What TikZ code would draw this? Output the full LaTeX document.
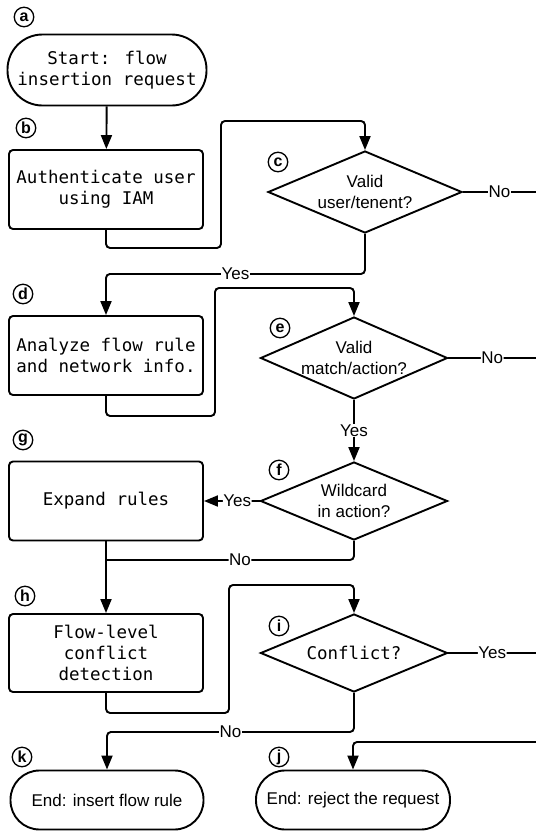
\documentclass[tikz,border=0pt]{standalone}
\usepackage{fontspec}
\setmainfont{Liberation Sans}
\newfontfamily\codefont{DejaVu Sans Mono}
\usepackage{tikz}
\usetikzlibrary{shapes,arrows.meta,positioning,calc}

\begin{document}
\begin{tikzpicture}[x=1pt, y=-1pt,
    line/.style={line width=1.9pt, rounded corners=4pt},
    arr/.style={line, -{Triangle[length=14pt,width=11pt]}},
    proc/.style={draw, line width=1.9pt, rectangle, rounded corners=4pt, minimum width=194pt, minimum height=79pt, align=center, font=\codefont\fontsize{17.5}{21}\selectfont},
    term/.style={draw, line width=1.9pt, rectangle, rounded corners=29pt, minimum height=59pt, align=center, font=\fontsize{17}{21}\selectfont},
    dec/.style={draw, line width=1.9pt, diamond, aspect=2.3, inner sep=-3pt, minimum width=187pt, align=center, font=\fontsize{17}{21}\selectfont},
    lbl/.style={fill=white, inner sep=0.5pt, font=\fontsize{17}{20}\selectfont},
    tag/.style={circle, draw, line width=1.3pt, minimum size=19.5pt, inner sep=0pt, font=\bfseries\fontsize{16}{16}\selectfont}]
    \useasboundingbox (0,0) rectangle (536,831);

    % left column
    \node[term, minimum width=199pt, minimum height=71pt, rounded corners=35pt, font=\codefont\fontsize{17.5}{21}\selectfont] (start) at (107,70) {Start: flow\\insertion request};
    \node[proc] (auth) at (106,189.5) {Authenticate user\\using IAM};
    \node[proc] (analyze) at (106,355.5) {Analyze flow rule\\and network info.};
    \node[proc] (expand) at (106,501) {Expand rules};
    \node[proc, minimum height=78pt] (detect) at (106,653) {Flow-level\\conflict\\detection};
    \node[term, minimum width=193pt] (insert) at (107,800) {End: insert flow rule};

    % right column
    \node[dec, minimum width=194pt, minimum height=82pt] (user) at (365,192) {Valid\\user/tenent?};
    \node[dec, minimum height=82pt] (match) at (354,358) {Valid\\match/action?};
    \node[dec, minimum height=78pt] (wild) at (354,501) {Wildcard\\in action?};
    \node[dec, minimum height=78pt, font=\codefont\fontsize{17.5}{21}\selectfont] (conflict) at (354,653) {Conflict?};
    \node[term, minimum width=194pt] (reject) at (353,800) {End: reject the request};

    % step tags
    \foreach \t/\x/\y in {a/24/17, b/26/128, c/278/162, d/23/294, e/280/328,
        g/23/440, f/279/470, h/25/596, i/279/626, k/22/757, j/279/757} {
        \node[tag] (tag\t) at (\x,\y) {\t};
    }

    % loose ends at the right border
    \coordinate (outA) at (536,192);
    \coordinate (outB) at (536,358);
    \coordinate (outC) at (536,653);
    \coordinate (backIn) at (536,742);

    % connectors
    \draw[arr] (start) -- (auth);
    \draw[arr] (auth.south) -- ++(0,18) -| (221,121) -| (user.north);
    \draw[line] (user.east) -- node[lbl] (noA) {No} (outA);
    \draw[arr] (user.south) -- ++(0,40) -| node[lbl, pos=0.25] (yesA) {Yes} (analyze.north);
    \draw[arr] (analyze.south) -- ++(0,20) -| (215,288) -| (match.north);
    \draw[line] (match.east) -- node[lbl] (noB) {No} (outB);
    \draw[arr] (match) -- node[lbl] (yesB) {Yes} (wild);
    \draw[arr] (wild.west) -- node[lbl, pos=0.4] (yesC) {Yes} (expand.east);
    \coordinate (join) at (106,560);
    \draw[line] (wild.south) |- node[lbl, pos=0.73] (noC) {No} (join);
    \draw[arr] (expand) -- (detect);
    \draw[arr] (detect.south) -- ++(0,20) -| (229,585) -| (conflict.north);
    \draw[line] (conflict.east) -- node[lbl] (yesD) {Yes} (outC);
    \draw[arr] (conflict.south) -- ++(0,39) -| node[lbl, pos=0.25] (noD) {No} (insert.north);
    \draw[arr] (backIn) -| (reject.north);
\end{tikzpicture}
\end{document}
